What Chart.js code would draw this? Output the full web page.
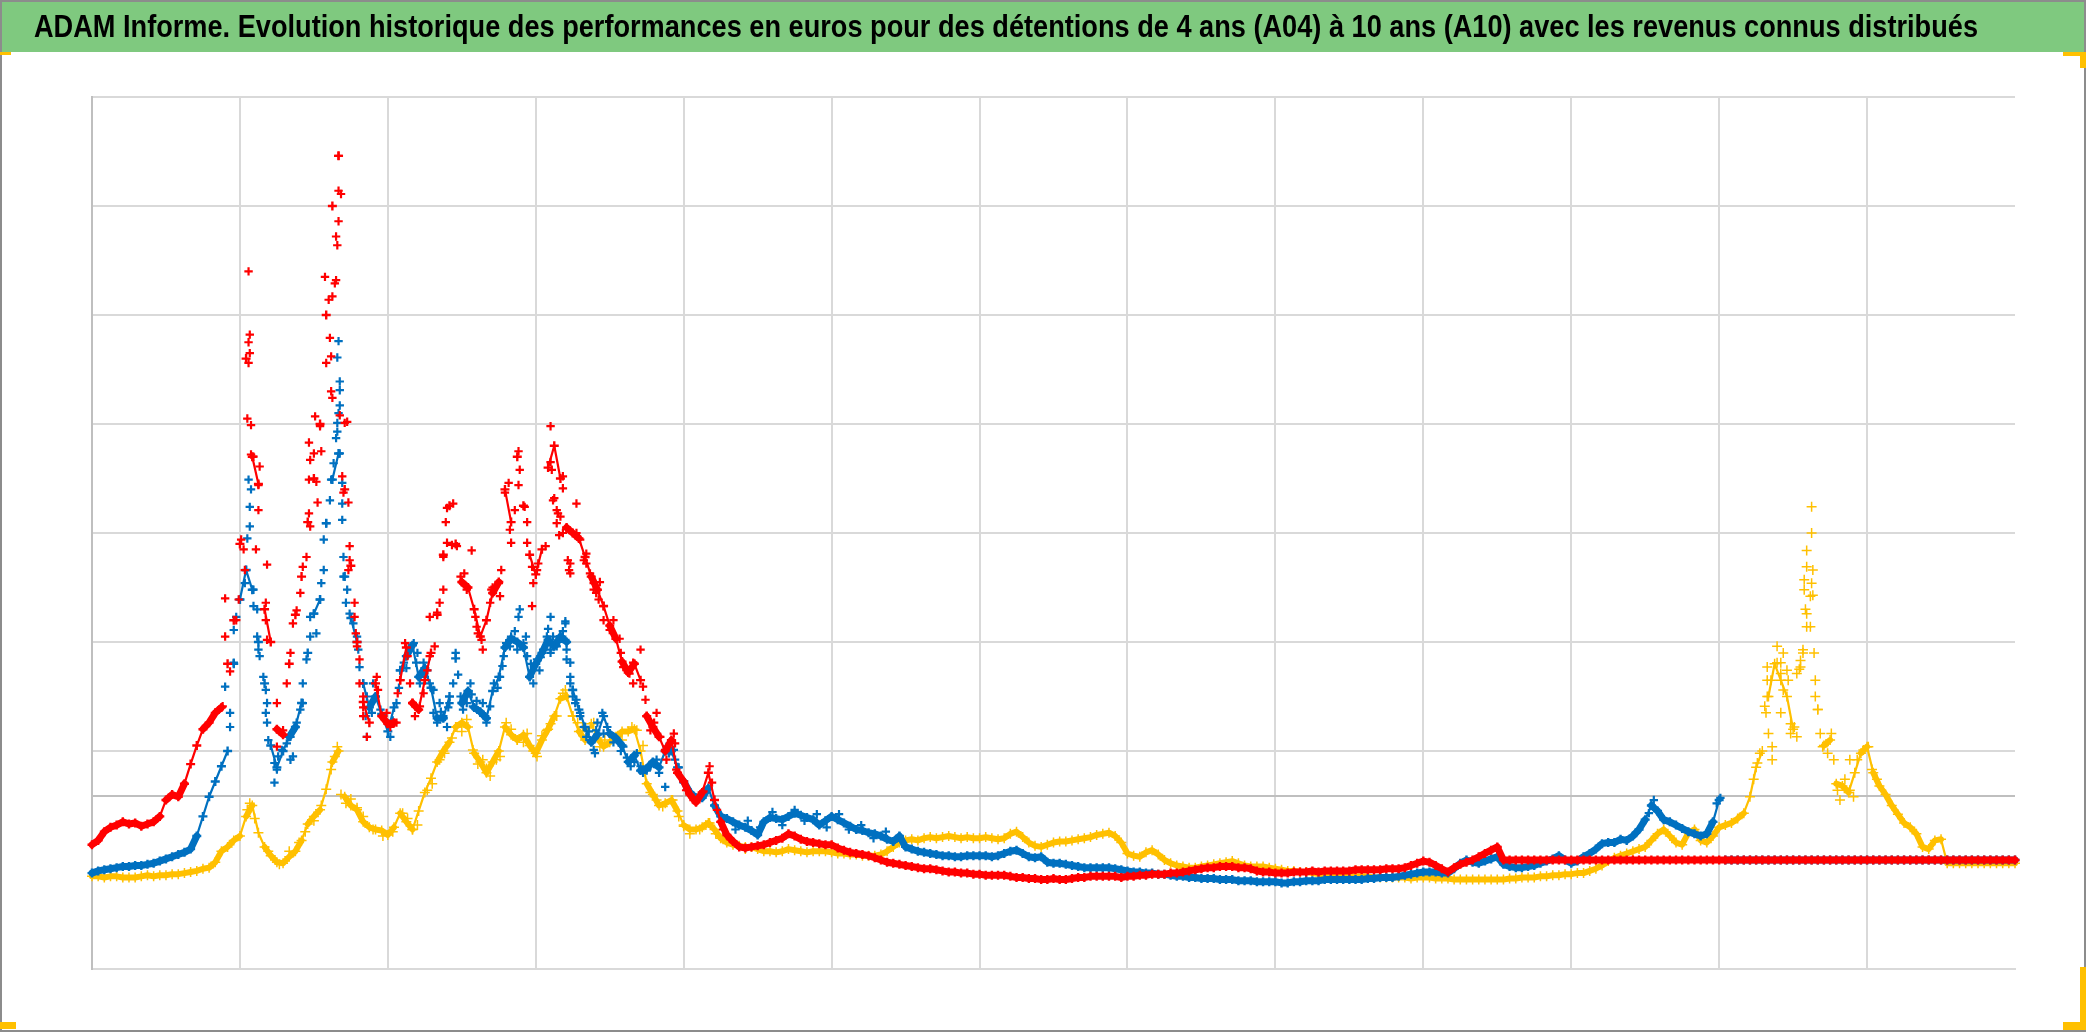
<!DOCTYPE html>
<html lang="fr">
<head>
<meta charset="utf-8">
<title>ADAM Informe</title>
<script src="https://cdn.jsdelivr.net/npm/chart.js@4.4.0/dist/chart.umd.min.js"></script>
<style>
  html, body { margin: 0; padding: 0; background: #fff; }
  canvas { display: block; }
</style>
</head>
<body>
<canvas id="myChart" width="2086" height="1032"></canvas>
<script>
// title and axis ticks
const chartTitle = "ADAM Informe. Evolution historique des performances en euros pour des détentions de 4 ans (A04) à 10 ans (A10) avec les revenus connus distribués";
const seriesNames = ["Série 1", "Série 2", "Série 3"];
const xTicks = [0, 12, 24, 36, 48, 60, 72, 84, 96, 108, 120, 132, 144, 156];
const yTicks = [0, 159, 200, 300, 400, 500, 600, 700, 800];

// months from 0 to 156, every half month
const months = [];
for (let i = 0; i <= 312; i++) months.push(i / 2);

// red series, one value per half month
const redValues = [
  114,118,126,130,132,135,133,134,131,133,135,140,155,160,158,170,188,205,220,226,235,240,280,320, // m0
  390,560,470,445,330,300,220,215,280,325,360,410,450,500,600,700,746,440,370,300,245,226,262,232, // m12
  225,226,265,295,244,238,265,290,325,380,425,390,355,350,330,305,320,345,355,440,410,470,425,380, // m24
  362,385,460,480,450,405,400,395,378,360,348,333,315,303,282,272,280,265,232,222,213,200,210,180, // m36
  172,160,153,162,180,155,135,123,117,112,111,112,113,114,116,118,120,124,122,119,117,116,115,114, // m48
  114,111,109,107,106,105,104,102,100,98,97,96,95,94,93,92,92,91,90,89,89,88,88,87,               // m60
  87,86,86,86,86,85,84,84,83,83,82,82,83,82,82,83,84,84,85,85,85,85,85,84,                         // m72
  85,85,86,86,87,87,87,88,88,89,90,91,92,93,93,94,94,94,93,93,92,90,89,89,                         // m84
  88,88,88,89,89,89,90,89,90,90,90,90,90,91,91,91,91,91,92,92,92,93,95,97,                         // m96
  99,98,95,92,89,93,96,98,100,103,106,109,112,                                                     // m108
  100,100,100,100,100,100,100,100,100,100,100,                                                     // m114.5
  100,100,100,100,100,100,100,100,100,100,100,100,100,100,100,100,100,100,100,100,100,100,100,100, // m120
  100,100,100,100,100,100,100,100,100,100,100,100,100,100,100,100,100,100,100,100,100,100,100,100, // m132
  100,100,100,100,100,100,100,100,100,100,100,100,100,100,100,100,100,100,100,100,100,100,100,100, // m144
  100
];

// blue series
const blueValues = [
  88,90,91,92,93,94,94,95,95,96,97,99,101,103,105,107,110,122,140,158,172,186,200,280,             // m0
  339,366,348,300,262,205,185,200,213,222,244,290,326,339,409,449,473,360,322,300,262,240,250,234, // m12
  218,240,274,287,297,268,276,258,230,230,250,285,244,255,240,236,230,255,268,295,303,300,295,268, // m24
  280,290,302,296,305,300,256,238,222,208,215,232,216,212,205,190,196,182,184,190,185,200,200,185, // m36
  172,162,157,157,166,150,140,138,135,132,130,127,123,135,139,138,137,140,143,141,139,137,132,136, // m48
  140,137,134,131,128,127,125,124,122,119,117,122,112,110,108,107,106,105,104,104,103,103,104,104, // m60
  104,104,103,104,106,108,109,106,103,102,103,98,97,97,96,95,94,93,93,93,93,93,92,91,              // m72
  90,89,89,88,88,87,87,86,85,85,84,84,83,83,83,82,82,82,81,81,81,80,80,80,                         // m84
  80,79,79,80,80,81,81,81,82,82,82,82,82,82,82,83,83,84,84,84,85,86,87,88,                         // m96
  89,89,89,88,88,92,97,100,98,97,99,101,103,96,94,93,93,94,95,97,99,101,104,100,                   // m108
  97,99,103,106,110,115,116,116,119,118,122,128,137,150,145,137,135,132,129,126,124,122,124,135,   // m120
  155,                                                                                             // m132
  100,100,100,100,100,100,100,100,100,100,100,100,100,100,100,100,100,100,100,100,100,100,100,     // m132.5
  100,100,100,100,100,100,100,100,100,100,100,100,100,100,100,100,100,100,100,100,100,100,100,100, // m144
  100
];

// yellow series
const yellowValues = [
  85,85,84,85,85,84,84,84,85,86,85,86,86,87,87,88,89,90,92,93,98,108,112,118,                      // m0
  122,140,150,125,112,104,98,97,103,108,118,133,140,146,165,190,200,158,150,146,135,130,128,127,   // m12
  123,130,143,135,128,145,162,175,190,200,208,222,226,222,198,190,180,190,200,222,215,210,215,205, // m24
  198,210,220,232,248,250,232,218,210,225,212,204,208,213,218,218,220,200,170,160,150,152,155,145, // m36
  132,128,128,130,134,128,120,116,114,113,112,112,110,108,108,107,108,110,109,108,107,108,108,108, // m48
  107,106,106,105,105,104,104,104,105,108,112,116,118,119,118,120,121,120,121,122,121,120,121,120, // m60
  120,121,120,119,120,124,126,121,116,113,112,114,116,117,117,118,119,120,121,123,124,125,122,116, // m72
  106,104,103,107,109,105,100,97,95,94,93,93,94,95,96,97,98,99,97,95,94,94,94,93,                  // m84
  92,91,90,90,89,89,88,87,87,86,86,86,85,85,85,85,84,84,84,84,84,84,83,84,                         // m96
  84,84,83,83,83,82,82,82,82,82,82,82,82,82,83,83,84,84,84,85,85,86,86,87,                         // m108
  87,88,88,90,92,95,99,102,104,106,108,110,112,118,124,128,122,116,114,125,128,118,116,122,        // m120
  130,132,134,138,143,158,185,200,250,280,265,250,220,275,330,400,238,205,210,170,168,162,180,198, // m132
  204,180,168,160,150,142,134,130,124,112,110,118,119,                                             // m144
  97,97,97,97,97,97,97,97,97,97,97,97                                                              // m150.5
];

// scattered points [month, value] where the series jumps around
const redExtra = [
  [10.6,241],[10.8,305],[10.8,340],[11.2,273],[11.7,320],[11.9,339],[12.1,394],[12.3,385],[12.4,366],
  [12.7,640],[12.8,582],[12.7,575],[12.8,565],[12.7,556],[12.6,505],[12.9,499],[12.9,472],
  [13.1,470],[13.6,461],[13.5,444],[13.5,421],[13.3,385],[14.2,371],[14.1,336],[14.1,320],[14.2,302],
  [15,244],[15,204],[15.5,219],[15.8,262],[16.1,290],[16.3,317],[16.6,329],[16.9,345],[17.1,369],
  [17.4,378],[17.6,418],[17.7,406],[17.6,449],[17.7,467],[18.2,447],[18.3,428],[18,473],[18.1,507],
  [18.5,498],[17.6,483],[18.6,475],
  [18.9,635],[19.8,632],[19.7,629],[19.5,617],[19.2,614],[19.3,579],[19.4,562],[19,556],[19.4,530],
  [19.5,524],[20.1,508],[20.7,502],[20.5,501],[20,746],[20,714],[20.2,711],[20,686],[19.8,672],[19.9,664],
  [20.3,452],[20.4,437],[20.8,428],[20.9,388],[20.9,375],[20.8,366],[21.3,336],[21.3,323],[21.4,308],
  [21.5,296],[21.7,284],[21.7,262],[22,250],[22,240],[22,232],[22.3,213],
  [23.1,268],[23.2,256],[23.6,232],[23.9,235],[24.2,222],[24.7,226],[24.8,253],[25,265],[25.4,299],
  [25.6,287],[25.8,262],[26,244],[26.2,232],[26.6,241],[26.9,253],[27.2,274],[27.4,287],[27.8,296],
  [27.4,323],[28,327],[28.2,336],[28.5,348],[28.5,378],[28.8,391],[28.7,410],[28.8,423],[29.3,427],
  [29.2,389],[29.6,388],[29.9,360],[30.1,354],[30.2,363],[30.4,348],[30.8,384],[31.1,323],[31.2,314],
  [31.3,308],[31.6,302],[31.7,293],[32.3,336],[32.4,348],[32.5,350],[33,354],[33.1,342],[33.2,366],
  [33.5,437],[33.8,446],[33.9,403],[34,391],[34.3,421],[34.6,475],[34.7,458],[34.6,444],[35.1,424],
  [35.3,410],[35.3,391],[35.7,369],[35.8,354],[36.1,366],[36.2,372],[35.7,333],[36.8,388],
  [37.2,498],[37.2,465],[37.3,458],[37.4,430],[37.7,421],[38,415],[38.2,400],[38.6,375],[38.7,366],
  [39.3,400],[39.6,394],[39.9,375],[40.1,372],[40.4,363],[40.7,354],[40.9,345],[41.1,339],
  [38.2,452],[38.2,441],[37.5,432],[39.3,427],[37.8,418],[37.7,409],[38.5,404],[37.9,398],[40.1,381],
  [38.8,372],[38.8,363],[41.2,355],[40.7,348],[41.5,333],[41.5,320],[42.3,320],[42,311],[42.8,303],
  [42.9,290],[43.1,277],[43.6,271],[43.9,281],[44.5,293],[43.9,262],[44.7,259],[44.9,247],[45,232],
  [45.3,219],[45.8,235],[45.6,226],[46.1,213],[46.5,201],[46.6,192],[47.2,216],[47.3,207],[47.4,183],
  [48.2,164],[48.8,155],[49.6,163],[50.1,186],[50.3,171],[50.7,146],[51.2,128],[51.8,119]
];

const blueExtra = [
  [10.8,259],[11.2,222],[11.2,235],[11.5,281],[11.5,311],[11.7,323],[12,339],[12.4,354],[12.5,366],
  [13.1,348],[13.1,333],[13.4,330],[12.8,406],[12.8,424],[12.7,449],[12.9,440],[12.6,395],[13.4,305],
  [13.5,293],[13.6,287],[13.9,268],[14.1,256],[14.2,244],[14.1,235],[14.2,226],[14.3,210],[14.8,189],
  [15,183],[14.8,171],[15.1,195],[15.4,201],[15.8,207],[16.1,213],[16.1,192],[16.3,195],[16.6,226],
  [16.9,238],[17.1,244],[17.1,262],[17.4,284],[17.7,305],[17.7,323],[18,326],[18.2,308],[18.5,339],
  [18.6,354],[18.8,366],[18.8,394],[19,409],[19.3,430],[19.4,449],[19.6,464],[20.1,473],
  [20,576],[19.9,561],[20.1,539],[20.1,531],[20.1,517],[20,510],[19.9,501],[19.9,493],[19.8,487],
  [20.3,446],[20.3,427],[20.3,412],[20.4,378],[20.4,360],[20.7,348],[20.6,336],[20.9,326],[21.2,317],
  [21.5,305],[21.6,293],[21.7,277],[22,262],[22.3,250],[22.2,232],[22.3,213],[22.7,235],[22.8,262],
  [23.4,238],[23.6,232],[24.2,213],[24.7,244],[25,274],[25.3,281],[25.8,293],[26.1,299],[26.3,281],
  [26.6,262],[26.9,281],[27.2,274],[27.7,256],[27.7,235],[28,226],[28.2,244],[28.5,232],[28.8,222],
  [29,244],[29.3,262],[29.5,290],[29.9,250],[30.1,238],[30.4,244],[30.7,262],[30.9,241],[31.5,235],
  [31.7,244],[32,226],[32.3,241],[32.6,262],[33.1,268],[33.4,287],[33.6,299],[34,305],[34.5,293],
  [34.6,323],[34.7,330],[35,299],[35.3,287],[35.5,268],[35.8,262],[36.1,284],[36.3,274],[36.6,293],
  [36.9,305],[37.2,293],[37.6,299],[38,305],[38.4,317],[38.5,293],[38.8,281],[38.8,262],[39,250],
  [39.6,232],[40.1,213],[40.7,201],[40.9,219],[37.2,323],[37.2,290],[37.7,296],[38.4,319],[38.4,302],
  [38.5,284],[38.8,268],[39,256],[39.3,247],[39.6,235],[39.9,222],[40.4,210],[40.8,198],[41.4,235],
  [41.5,216],[42,216],[42.6,210],[43.1,204],[43.7,186],[44.2,198],[44.7,180],[45.3,186],[45.8,192],
  [46.5,167],[46.6,204],[47.2,201],[47.3,192],[48,171],[126.7,155],[126.3,143],[131.8,152],[132.1,157],
  [24.4,228],[24.9,258],[25.5,276],[26.4,290],[27,268],[27.4,262],[28.3,236],[28.9,240],[29.7,270],
  [30.3,250],[30.8,252],[31.2,246],[31.9,232],[32.9,258],[33.3,278],[33.9,296],[34.3,310],[35.2,305],
  [35.6,280],[36.4,286],[37,312],[37.4,305],[37.9,300],[38.2,310],[39.2,244],[40.3,218],[41,226],
  [41.8,222],[42.3,208],[42.9,200],[43.4,194],[44,190],[44.5,186],[45,182],[45.6,188],[46,180],
  [46.8,198],[47.6,185],[48.3,165],
  [52.2,128],[53.2,136],[54.2,130],[55.2,144],[56,132],[57,146],[57.8,136],[58.8,142],[59.6,130],
  [60.6,142],[61.4,128],[62.4,132],[63.4,120],[64.4,126]
];

const yellowExtra = [
  [12.8,152],[12.6,146],[13.2,138],[19.9,204],[19.7,195],[19.4,183],[20.2,160],[20.6,152],[21.5,148],
  [25.2,143],[26,128],[27.2,164],[28.2,192],[29.6,222],[30.4,229],[30.9,201],[31.7,192],[32.3,177],
  [33.1,195],[33.6,226],[34.5,210],[35.3,216],[36.1,195],[36.9,219],[37.7,232],[38.2,253],[38.4,256],
  [39,232],[39.8,222],[40.7,226],[41.2,204],[42.6,213],[44.2,219],[44.7,205],[45.3,162],[46.3,149],
  [47.1,155],[48,131],[49.3,128],[50.1,134],[51.2,119],
  [14.3,108],[15.2,96],[16,108],[16.8,116],[17.3,126],[18,136],[18.6,150],[21,156],[22,140],
  [22.8,128],[23.6,122],[24.4,126],[25.6,138],[26.4,132],[27.6,170],[28.6,198],[29.2,212],[30,218],
  [31.3,188],[32,184],[32.8,192],[34,220],[35,208],[35.8,200],[36.5,214],[37.2,225],[39.4,226],
  [40.2,218],[41.6,210],[43,210],[43.8,222],[45.8,155],[47.6,140],[48.5,124],[49.8,132],[50.6,124],
  [52,116],[53,110],
  [134.8,174],[135.1,189],[135.3,198],[136.3,192],[135.7,241],[135.8,235],[135.9,250],[135.9,265],
  [136.2,265],[135.9,277],[136.7,296],[136.7,281],[137,271],[137,281],[137.2,256],[137.2,290],
  [137.5,274],[137.6,265],[137,235],[137.8,216],[137.8,225],[138.1,222],[138.3,213],[138.3,271],
  [138.6,277],[138.6,283],[138.8,290],[138.8,293],[139.1,314],[139.1,326],[139.4,342],[138.9,348],
  [138.9,357],[139.1,369],[139.1,384],[139.5,424],[139.6,366],[139.5,354],[139.6,343],[139.4,314],
  [139.7,290],[139.8,265],[139.8,250],[140,238],[140.2,216],[140.4,204],[140.8,198],[141.1,216],
  [141.3,192],[141.6,164],[141.8,155],[142.2,174],[142.6,164],[142.9,158],[142.6,192],[143.2,192],
  [143.7,201],[144.1,204],[144.4,183],[144.8,174],[136,216],[136.3,204]
];

// build the scatter points
function gridPoints(values) {
  const pts = [];
  values.forEach((v, i) => {
    if (v !== null) pts.push({ x: months[i], y: v });
  });
  return pts;
}
function extraPoints(extra) {
  return extra.map(p => ({ x: p[0], y: p[1] }));
}

// the dense daily band: thick where the series is calm, a thin trace where
// it moves, nothing across big jumps
function bandSegment(color, band) {
  const jump = c => Math.abs(c.p1.parsed.y - c.p0.parsed.y);
  return {
    borderColor: c => jump(c) > 30 ? 'rgba(0,0,0,0)' : color,
    borderWidth: c => jump(c) <= 12 ? band : 2.2
  };
}

function mainSet(label, values, color, radius, stroke, band, order) {
  return {
    label: label,
    data: gridPoints(values),
    showLine: true,
    borderColor: color,
    borderWidth: band,
    borderJoinStyle: 'round',
    borderCapStyle: 'round',
    segment: bandSegment(color, band),
    pointStyle: 'cross',
    pointRadius: radius,
    pointHoverRadius: radius,
    pointBorderColor: color,
    pointBackgroundColor: color,
    pointBorderWidth: stroke,
    clip: false,
    order: order
  };
}
function extraSet(label, extra, color, radius, stroke, order) {
  return {
    label: label,
    data: extraPoints(extra),
    showLine: false,
    pointStyle: 'cross',
    pointRadius: radius,
    pointHoverRadius: radius,
    pointBorderColor: color,
    pointBackgroundColor: color,
    pointBorderWidth: stroke,
    clip: false,
    order: order
  };
}

// green title band, frame and corner handles
const framePlugin = {
  id: 'frame',
  beforeDraw(chart) {
    const ctx = chart.ctx;
    const w = chart.width, h = chart.height;
    ctx.save();
    ctx.fillStyle = '#ffffff';
    ctx.fillRect(0, 0, w, h);
    ctx.fillStyle = '#7fc97f';
    ctx.fillRect(0, 0, w, 52);
    ctx.fillStyle = '#000000';
    ctx.font = "bold 31px 'Liberation Sans Narrow', 'Liberation Sans', Arial, sans-serif";
    ctx.textBaseline = 'alphabetic';
    ctx.fillText(chartTitle, 34, 37, 1944);
    ctx.restore();
  },
  afterDraw(chart) {
    const ctx = chart.ctx;
    const w = chart.width, h = chart.height;
    ctx.save();
    ctx.strokeStyle = '#8c8c8c';
    ctx.lineWidth = 2;
    ctx.strokeRect(1, 1, w - 2, h - 2);
    ctx.fillStyle = '#ffc000';
    ctx.fillRect(0, 52, 11, 3);
    ctx.fillRect(w - 23, 52, 23, 4);
    ctx.fillRect(w - 6, 52, 6, 16);
    ctx.fillRect(0, h - 10, 16, 7);
    ctx.fillRect(w - 23, h - 10, 23, 8);
    ctx.fillRect(w - 6, h - 65, 6, 63);
    ctx.restore();
  }
};

const red = '#ff0000', blue = '#0070c0', yellow = '#ffc000';

const ctx = document.getElementById('myChart').getContext('2d');
const chart = new Chart(ctx, {
  type: 'scatter',
  data: {
    datasets: [
      mainSet(seriesNames[0], redValues, red, 4.5, 2.4, 7, 0),
      extraSet(seriesNames[0], redExtra, red, 4.2, 2.2, 1),
      mainSet(seriesNames[1], blueValues, blue, 4.5, 2.4, 7, 2),
      extraSet(seriesNames[1], blueExtra, blue, 4.2, 2.2, 3),
      mainSet(seriesNames[2], yellowValues, yellow, 5, 1.5, 6, 4),
      extraSet(seriesNames[2], yellowExtra, yellow, 5, 1.5, 5)
    ]
  },
  options: {
    responsive: false,
    animation: false,
    events: [],
    layout: { padding: { left: 92, right: 71, top: 97, bottom: 63 } },
    plugins: {
      legend: { display: false },
      tooltip: { enabled: false },
      title: { display: false }
    },
    scales: {
      x: {
        type: 'linear',
        min: 0,
        max: 156,
        afterBuildTicks: scale => { scale.ticks = xTicks.map(v => ({ value: v })); },
        ticks: { display: false },
        grid: {
          drawTicks: false,
          lineWidth: 2,
          color: c => (c.tick && c.tick.value === 156) ? 'rgba(0,0,0,0)' : '#d9d9d9'
        },
        border: { display: true, color: '#d9d9d9', width: 2 }
      },
      y: {
        type: 'linear',
        min: 0,
        max: 800,
        afterBuildTicks: scale => { scale.ticks = yTicks.map(v => ({ value: v })); },
        ticks: { display: false },
        grid: {
          drawTicks: false,
          lineWidth: 2,
          color: c => (c.tick && c.tick.value === 159) ? '#bfbfbf' : '#d9d9d9'
        },
        border: { display: true, color: '#bfbfbf', width: 2 }
      }
    }
  },
  plugins: [framePlugin]
});
</script>
</body>
</html>
